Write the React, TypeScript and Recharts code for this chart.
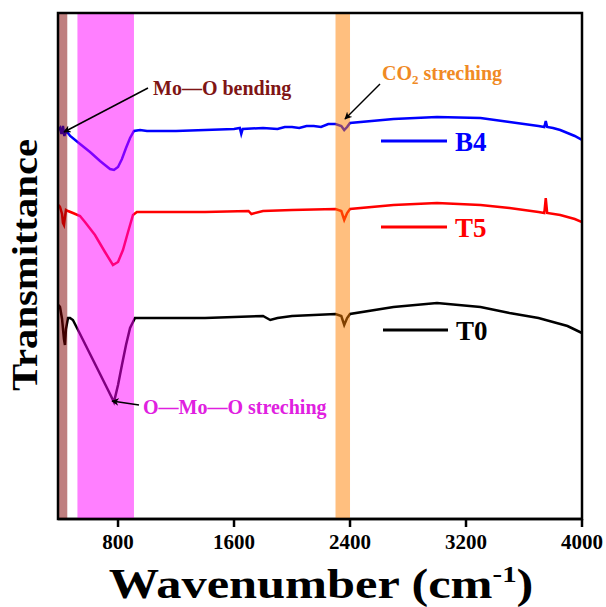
import React from "react";
import { LineChart, Line, XAxis, YAxis, ReferenceArea } from "recharts";

// Wavenumbers (cm-1) and transmittance (a.u.) for each sample
const b4Wavenumber = [390, 400, 410, 420, 430, 440, 455, 470, 538, 607, 676, 710, 745, 772, 800, 827, 855, 883, 910, 952, 1000, 1200, 1400, 1600, 1640, 1650, 1660, 1800, 1900, 1950, 2000, 2050, 2100, 2150, 2200, 2250, 2300, 2340, 2360, 2380, 2400, 2700, 3000, 3300, 3500, 3600, 3700, 3740, 3750, 3760, 3800, 3850, 3900, 3950, 4000];
const b4Values = [389, 391, 385, 393, 383, 388, 386, 383, 375, 367, 358, 354, 350, 349, 352, 360, 371, 381, 388, 389, 388, 388, 389, 390, 391, 385, 390, 391, 390, 392, 392, 391, 393, 393, 392, 395, 395, 393, 389, 392, 396, 400, 402, 401, 397, 395, 393, 392, 398, 392, 391, 389, 386, 383, 379];

const t5Wavenumber = [390, 400, 414, 420, 427, 434, 441, 455, 489, 538, 572, 641, 710, 765, 800, 834, 869, 903, 930, 1000, 1400, 1700, 1720, 1800, 2000, 2300, 2340, 2360, 2380, 2400, 2700, 3000, 3300, 3500, 3700, 3740, 3750, 3760, 3850, 3950, 4000];
const t5Values = [314, 312, 305, 296, 294, 302, 309, 308, 306, 303, 297, 284, 267, 254, 257, 269, 287, 304, 307, 307, 307, 308, 305, 308, 309, 310, 308, 299, 306, 310, 314, 316, 314, 311, 307, 306, 321, 306, 304, 300, 297];

const t0Wavenumber = [390, 400, 414, 427, 434, 441, 455, 469, 489, 538, 607, 676, 731, 772, 800, 827, 855, 883, 917, 1000, 1400, 1800, 1850, 1900, 2000, 2300, 2340, 2360, 2380, 2400, 2700, 3000, 3300, 3500, 3700, 3800, 3900, 4000];
const t0Values = [214, 212, 200, 180, 174, 190, 201, 201, 199, 185, 165, 145, 129, 117, 134, 154, 174, 191, 201, 201, 201, 203, 199, 201, 203, 205, 203, 194, 201, 205, 212, 216, 212, 206, 201, 197, 193, 186];

const xTicks = [800, 1600, 2400, 3200, 4000];
const xDomain = [386, 4000];
const yDomain = [0, 506];

// Highlighted bands [from, to]
const moBendBand = [386, 450];
const moStretchBand = [520, 910];
const co2Band = [2300, 2400];

const toData = (xs: number[], ys: number[]) => xs.map((x, i) => ({ x, y: ys[i] }));
const b4Data = toData(b4Wavenumber, b4Values);
const t5Data = toData(t5Wavenumber, t5Values);
const t0Data = toData(t0Wavenumber, t0Values);

const FONT = "'Liberation Serif', 'Times New Roman', serif";

export default function App() {
  return (
    <div style={{ position: "absolute", left: 0, top: 0, width: 606, height: 607, background: "#fff", fontFamily: FONT }}>
      <LineChart width={606} height={607} margin={{ top: 13, right: 24, bottom: 58, left: 58 }}>
        <XAxis
          type="number"
          dataKey="x"
          domain={xDomain}
          ticks={xTicks}
          allowDataOverflow
          height={30}
          axisLine={{ stroke: "#000", strokeWidth: 2.5 }}
          tickLine={{ stroke: "#000", strokeWidth: 2.5 }}
          tickSize={8}
          tickMargin={7}
          tick={{ fill: "#000", fontSize: 21, fontWeight: "bold", fontFamily: FONT }}
        />
        <YAxis type="number" domain={yDomain} hide />
        <Line data={t0Data} dataKey="y" type="linear" stroke="#000000" strokeWidth={2.5} dot={false} isAnimationActive={false} />
        <Line data={t5Data} dataKey="y" type="linear" stroke="#ff0000" strokeWidth={2.5} dot={false} isAnimationActive={false} />
        <Line data={b4Data} dataKey="y" type="linear" stroke="#0000ff" strokeWidth={2.5} dot={false} isAnimationActive={false} />
        <ReferenceArea x1={moBendBand[0]} x2={moBendBand[1]} y1={yDomain[0]} y2={yDomain[1]} fill="#800000" fillOpacity={0.5} stroke="none" zIndex={900} />
        <ReferenceArea x1={moStretchBand[0]} x2={moStretchBand[1]} y1={yDomain[0]} y2={yDomain[1]} fill="#ff00ff" fillOpacity={0.5} stroke="none" zIndex={900} />
        <ReferenceArea x1={co2Band[0]} x2={co2Band[1]} y1={yDomain[0]} y2={yDomain[1]} fill="#ff8000" fillOpacity={0.5} stroke="none" zIndex={900} />
      </LineChart>
      <svg width={606} height={607} style={{ position: "absolute", left: 0, top: 0, pointerEvents: "none" }}>
        <defs>
          <marker id="ah" viewBox="0 0 10 10" refX="9" refY="5" markerWidth="5" markerHeight="5" orient="auto-start-reverse">
            <path d="M0,0 L10,5 L0,10 L3,5 z" fill="#000" />
          </marker>
        </defs>
        <rect x={58} y={13} width={524} height={506} fill="none" stroke="#000" strokeWidth={2.5} />
        {/* legend */}
        <line x1={381} x2={447} y1={141} y2={141} stroke="#0000ff" strokeWidth={3} />
        <text x={455} y={151} fill="#0000ff" fontSize={27} fontWeight="bold" fontFamily={FONT}>B4</text>
        <line x1={381} x2={447} y1={227} y2={227} stroke="#ff0000" strokeWidth={3} />
        <text x={455} y={237} fill="#ff0000" fontSize={27} fontWeight="bold" fontFamily={FONT}>T5</text>
        <line x1={383} x2={448} y1={330} y2={330} stroke="#000000" strokeWidth={3} />
        <text x={456} y={340} fill="#000000" fontSize={27} fontWeight="bold" fontFamily={FONT}>T0</text>
        {/* annotations */}
        <text x={153} y={95} fill="#7f1515" fontSize={20} fontWeight="bold" fontFamily={FONT}>Mo—O bending</text>
        <line x1={148} y1={88} x2={64} y2={132} stroke="#000" strokeWidth={1.5} markerEnd="url(#ah)" />
        <text x={382} y={80} fill="#f08a24" fontSize={20} fontWeight="bold" fontFamily={FONT}>
          CO<tspan fontSize={13} dy={4}>2</tspan><tspan dy={-4}> streching</tspan>
        </text>
        <line x1={380} y1={84} x2={345} y2={119} stroke="#000" strokeWidth={1.5} markerEnd="url(#ah)" />
        <text x={143} y={414} fill="#e020e0" fontSize={20} fontWeight="bold" fontFamily={FONT}>O—Mo—O streching</text>
        <line x1={139} y1={405} x2={112} y2={401} stroke="#000" strokeWidth={1.5} markerEnd="url(#ah)" />
        {/* axis titles */}
        <g transform="translate(321,0) scale(1.2,1) translate(-321,0)">
          <text x={321} y={598} textAnchor="middle" fontSize={42} fontWeight="bold" fontFamily={FONT} fill="#000">
            Wavenumber (cm<tspan fontSize={24} dy={-16}>-1</tspan><tspan dy={16}>)</tspan>
          </text>
        </g>
        <text x={37} y={265} textAnchor="middle" fontSize={36} fontWeight="bold" fontFamily={FONT} fill="#000" transform="rotate(-90 37 265)" textLength={252} lengthAdjust="spacingAndGlyphs">
          Transmittance
        </text>
      </svg>
    </div>
  );
}
